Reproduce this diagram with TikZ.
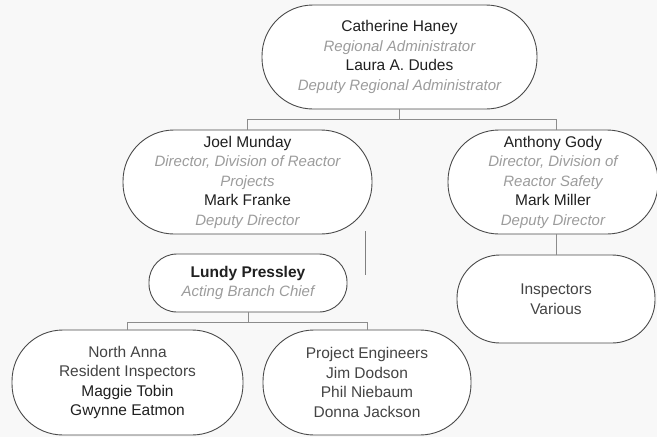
\documentclass[tikz,border=0pt]{standalone}
\usepackage{fontspec}
\setmainfont{Liberation Sans}
\definecolor{bg}{HTML}{F8F8F8}
\definecolor{edge}{HTML}{4A4A4A}
\definecolor{linkgray}{HTML}{8C8C8C}
\definecolor{rolegray}{HTML}{9C9C9C}
\definecolor{namegray}{HTML}{202020}
\definecolor{plaingray}{HTML}{444444}
\newcommand{\role}[1]{{\fontsize{15}{19.5}\selectfont\color{rolegray}\itshape #1}}
\begin{document}
\begin{tikzpicture}[x=1pt,y=-1pt,
  box/.style={draw=edge, fill=white, line width=0.9pt, align=center, inner sep=0pt,
    text=namegray, font=\fontsize{15.5}{19.5}\selectfont},
  link/.style={draw=linkgray, line width=0.9pt}]
\fill[bg] (0,0) rectangle (657,437);
\useasboundingbox (0,0) rectangle (657,437);

\node[box, minimum width=275pt, minimum height=104pt, rounded corners=51pt] (haney) at (399.5,57)
  {Catherine Haney\\ \role{Regional Administrator}\\ Laura A. Dudes\\ \role{Deputy Regional Administrator}};
\node[box, minimum width=249pt, minimum height=104pt, rounded corners=51pt] (munday) at (247.5,182)
  {Joel Munday\\ \role{Director, Division of Reactor}\\ \role{Projects}\\ Mark Franke\\ \role{Deputy Director}};
\node[box, minimum width=210pt, minimum height=104pt, rounded corners=51pt] (gody) at (553,182)
  {Anthony Gody\\ \role{Director, Division of}\\ \role{Reactor Safety}\\ Mark Miller\\ \role{Deputy Director}};
\node[box, minimum width=198pt, minimum height=58pt, rounded corners=28pt] (pressley) at (248,283)
  {\textbf{Lundy Pressley}\\ \role{Acting Branch Chief}};
\node[box, minimum width=198pt, minimum height=88pt, rounded corners=43pt, text=plaingray] (insp) at (556,299)
  {Inspectors\\ Various};
\node[box, minimum width=231pt, minimum height=105pt, rounded corners=51pt] (anna) at (127.5,382.5)
  {\textcolor{plaingray}{North Anna}\\ \textcolor{plaingray}{Resident Inspectors}\\ Maggie Tobin\\ Gwynne Eatmon};
\node[box, minimum width=208pt, minimum height=105pt, rounded corners=51pt, text=plaingray] (eng) at (367,382.5)
  {Project Engineers\\ Jim Dodson\\ Phil Niebaum\\ Donna Jackson};

\coordinate (stubtop) at (365,231);
\coordinate (stubbot) at (365,275);

\path[link] (haney.south) -- ++(0,10) -| (munday.north);
\path[link] (haney.south) -- ++(0,10) -| (gody.north -| insp.north);
\path[link] (gody.south -| insp.north) -- (insp.north);
\path[link] (pressley.south) -- ++(0,10) -| (anna.north);
\path[link] (pressley.south) -- ++(0,10) -| (eng.north);
\path[link, draw=gray] (stubtop) -- (stubbot);
\end{tikzpicture}
\end{document}
